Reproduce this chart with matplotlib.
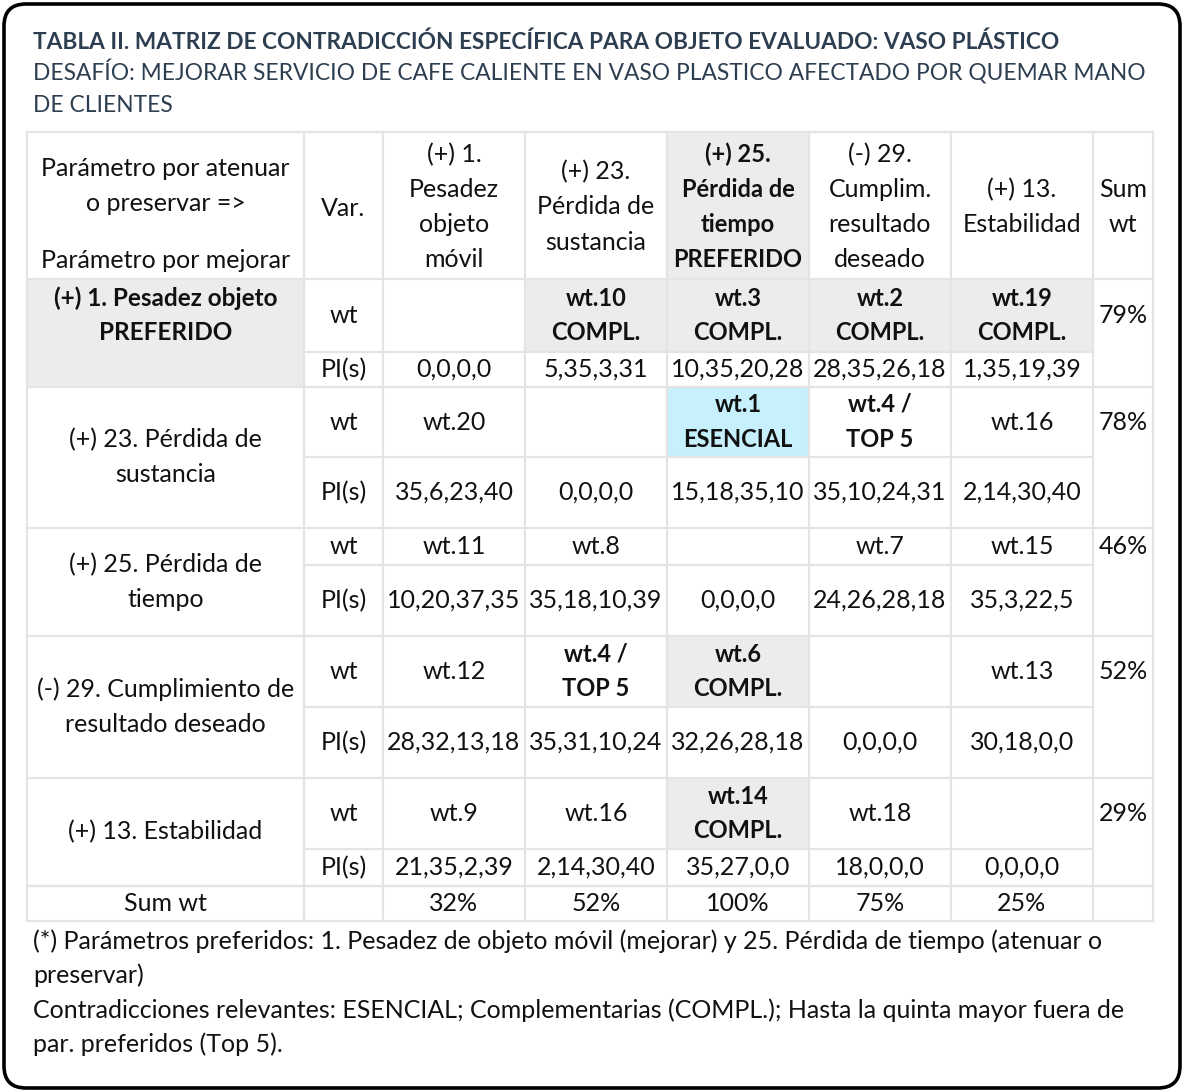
import matplotlib
matplotlib.use("Agg")
import matplotlib.pyplot as plt
from matplotlib.patches import Rectangle, FancyBboxPatch

plt.rcParams['font.family'] = ['Lato', 'DejaVu Sans']

# ---- data ----
title = "TABLA II. MATRIZ DE CONTRADICCIÓN ESPECÍFICA PARA OBJETO EVALUADO: VASO PLÁSTICO"
subtitle = ["DESAFÍO: MEJORAR SERVICIO DE CAFE CALIENTE EN VASO PLASTICO AFECTADO POR QUEMAR MANO",
            "DE CLIENTES"]

col_headers = ["(+) 1.\nPesadez\nobjeto\nmóvil",
               "(+) 23.\nPérdida de\nsustancia",
               "(+) 25.\nPérdida de\ntiempo\nPREFERIDO",
               "(-) 29.\nCumplim.\nresultado\ndeseado",
               "(+) 13.\nEstabilidad"]
row_labels = ["(+) 1. Pesadez objeto\nPREFERIDO",
              "(+) 23. Pérdida de\nsustancia",
              "(+) 25. Pérdida de\ntiempo",
              "(-) 29. Cumplimiento de\nresultado deseado",
              "(+) 13. Estabilidad"]

wt_values = [
    ["", "wt.10\nCOMPL.", "wt.3\nCOMPL.", "wt.2\nCOMPL.", "wt.19\nCOMPL."],
    ["wt.20", "", "wt.1\nESENCIAL", "wt.4 /\nTOP 5", "wt.16"],
    ["wt.11", "wt.8", "", "wt.7", "wt.15"],
    ["wt.12", "wt.4 /\nTOP 5", "wt.6\nCOMPL.", "", "wt.13"],
    ["wt.9", "wt.16", "wt.14\nCOMPL.", "wt.18", ""],
]
pi_values = [
    ["0,0,0,0", "5,35,3,31", "10,35,20,28", "28,35,26,18", "1,35,19,39"],
    ["35,6,23,40", "0,0,0,0", "15,18,35,10", "35,10,24,31", "2,14,30,40"],
    ["10,20,37,35", "35,18,10,39", "0,0,0,0", "24,26,28,18", "35,3,22,5"],
    ["28,32,13,18", "35,31,10,24", "32,26,28,18", "0,0,0,0", "30,18,0,0"],
    ["21,35,2,39", "2,14,30,40", "35,27,0,0", "18,0,0,0", "0,0,0,0"],
]
row_sum = ["79%", "78%", "46%", "52%", "29%"]
col_sum = ["32%", "52%", "100%", "75%", "25%"]

# highlight kind per wt cell: "" none, "c" complementaria, "e" esencial, "t" top 5
wt_kind = [
    ["", "c", "c", "c", "c"],
    ["", "", "e", "t", ""],
    ["", "", "", "", ""],
    ["", "t", "c", "", ""],
    ["", "", "c", "", ""],
]

footnote = ["(*) Parámetros preferidos: 1. Pesadez de objeto móvil (mejorar) y 25. Pérdida de tiempo (atenuar o",
            "preservar)",
            "Contradicciones relevantes: ESENCIAL; Complementarias (COMPL.); Hasta la quinta mayor fuera de",
            "par. preferidos (Top 5)."]

# ---- layout (pixels) ----
W, H = 1184, 1092
col_w = [277, 79, 142, 142, 142, 142, 142, 60]
x0 = 27
header_top, header_h = 132, 147
wt_h = [73, 70, 37, 71, 71]
pi_h = [35, 71, 71, 71, 37]
sum_h = 35

GRID = "#e4e4e4"
GRAY = "#ececec"
BLUE = "#c5f0fc"
INK = "#111111"
NAVY = "#2d3e50"
FS = 18      # regular text
FSB = 17     # bold text
LINE = 35

fig = plt.figure(figsize=(W / 100, H / 100), dpi=100)
ax = fig.add_axes([0, 0, 1, 1])
ax.set_xlim(0, W)
ax.set_ylim(H, 0)
ax.axis("off")

xs = [x0]
for w in col_w:
    xs.append(xs[-1] + w)


def cell(c0, c1, y_top, y_bot, fill=None):
    if fill:
        ax.add_patch(Rectangle((xs[c0], y_top), xs[c1] - xs[c0], y_bot - y_top,
                               facecolor=fill, edgecolor="none", zorder=1))


def put(text, c0, c1, yc, bold=False, color=INK, size=None):
    lines = text.split("\n")
    xc = (xs[c0] + xs[c1]) / 2
    start = yc - LINE * (len(lines) - 1) / 2
    fs = size if size else (FSB if bold else FS)
    for i, ln in enumerate(lines):
        ax.text(xc, start + i * LINE, ln, ha="center", va="center", fontsize=fs,
                fontweight="bold" if bold else "normal", color=color, zorder=3)


# header row
hb = header_top + header_h
cell(4, 5, header_top, hb, GRAY)
ax.text((xs[0] + xs[1]) / 2, 186 - LINE / 2, "Parámetro por atenuar", ha="center", va="center",
        fontsize=FS, color=INK, zorder=3)
ax.text((xs[0] + xs[1]) / 2, 186 + LINE / 2, "o preservar =>", ha="center", va="center",
        fontsize=FS, color=INK, zorder=3)
ax.text((xs[0] + xs[1]) / 2, 260, "Parámetro por mejorar", ha="center", va="center",
        fontsize=FS, color=INK, zorder=3)
put("Var.", 1, 2, 208)
for j, hdr in enumerate(col_headers):
    put(hdr, 2 + j, 3 + j, 207, bold=(j == 2))
put("Sum\nwt", 7, 8, 207)

# body rows
ys = [hb]
y = hb
for i in range(len(row_labels)):
    ywt_top = y
    ywt_bot = y + wt_h[i]
    ypi_bot = ywt_bot + pi_h[i]
    if i == 0:
        cell(0, 1, ywt_top, ypi_bot, GRAY)
        put(row_labels[i], 0, 1, (ywt_top + ywt_bot) / 2, bold=True, size=17.5)
    else:
        put(row_labels[i], 0, 1, (ywt_top + ypi_bot) / 2)
    put("wt", 1, 2, (ywt_top + ywt_bot) / 2)
    put("PI(s)", 1, 2, (ywt_bot + ypi_bot) / 2)
    for j in range(5):
        kind = wt_kind[i][j]
        if kind == "c":
            cell(2 + j, 3 + j, ywt_top, ywt_bot, GRAY)
        elif kind == "e":
            cell(2 + j, 3 + j, ywt_top, ywt_bot, BLUE)
        put(wt_values[i][j], 2 + j, 3 + j, (ywt_top + ywt_bot) / 2, bold=bool(kind))
        put(pi_values[i][j], 2 + j, 3 + j, (ywt_bot + ypi_bot) / 2)
    put(row_sum[i], 7, 8, (ywt_top + ywt_bot) / 2)
    ys.append(ywt_bot)
    ys.append(ypi_bot)
    y = ypi_bot

sum_top = y
sum_bot = y + sum_h
put("Sum wt", 0, 1, (sum_top + sum_bot) / 2)
for j, s in enumerate(col_sum):
    put(s, 2 + j, 3 + j, (sum_top + sum_bot) / 2)

# grid lines
lw = 1.6
for yy in (header_top, hb, sum_top, sum_bot):
    ax.plot([xs[0], xs[-1]], [yy, yy], color=GRID, lw=lw, zorder=2)
for k in range(len(row_labels)):
    mid = ys[2 * k + 1]
    bot = ys[2 * k + 2]
    ax.plot([xs[0], xs[-1]], [bot, bot], color=GRID, lw=lw, zorder=2)
    ax.plot([xs[1], xs[-2]], [mid, mid], color=GRID, lw=lw, zorder=2)
for xv in xs:
    ax.plot([xv, xv], [header_top, sum_bot], color=GRID, lw=lw, zorder=2)

# titles and footnote
ax.text(33, 42, title, ha="left", va="center", fontsize=16.3, fontweight="bold", color=NAVY)
ax.text(33, 72, subtitle[0], ha="left", va="center", fontsize=16.4, color=NAVY)
ax.text(33, 106, subtitle[1], ha="left", va="center", fontsize=16.4, color=NAVY)
for k, ln in enumerate(footnote):
    ax.text(33, 941 + k * 34.5, ln, ha="left", va="center", fontsize=FS, color=INK)

# rounded outer frame
ax.add_patch(FancyBboxPatch((4, 4), W - 8, H - 8, boxstyle="round,pad=0,rounding_size=22",
                            facecolor="none", edgecolor="black", lw=2.6, zorder=4))

fig.savefig("out.png", dpi=100)
